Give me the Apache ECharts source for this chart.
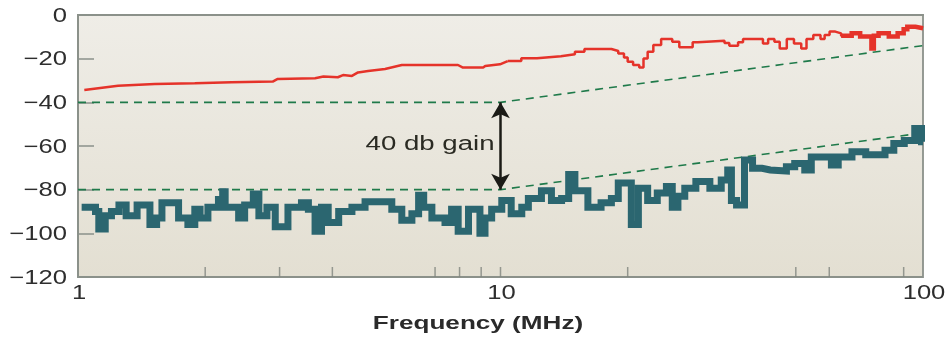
<!DOCTYPE html>
<html>
<head>
<meta charset="utf-8">
<script src="https://cdn.jsdelivr.net/npm/echarts@6/dist/echarts.min.js"></script>
<style>html,body{margin:0;padding:0;background:#fff}#c{width:947px;height:340px}</style>
</head>
<body>
<div id="c"></div>
<script>
// Frequency axis (MHz, log) and level axis (dB)
const xTickLabels = [1, 10, 100];
const xMinorTicks = [2, 3, 4, 7, 8, 9, 10, 20, 50, 60, 90];
const yTicks = [0, -20, -40, -60, -80, -100, -120];
const xAxisTitle = 'Frequency (MHz)';

// Red trace (upper) – smooth-ish low part and stepped high part: [MHz, dB]
const redLow = [[1.035,-34.4],[1.244,-32.4],[1.52,-31.6],[1.89,-31.3],[2.31,-30.8],[2.89,-30.5],[2.97,-29.3],[3.64,-29.0],[3.81,-28.2],[4.12,-28.5],[4.24,-27.5],[4.45,-27.9],[4.6,-26.3],[4.86,-25.7],[5.33,-24.7],[5.84,-22.9],[7.93,-22.9],[8.15,-24.1],[9.1,-24.1],[9.2,-23.4],[9.97,-22.6],[10.4,-21.1]];
const redHigh = [[10.4,-21.1],[11.2,-19.8],[12.2,-18.9],[13.9,-18.0],[15.0,-16.8],[15.8,-15.6],[18.3,-16.5],[19.0,-17.6],[19.6,-19.5],[20.0,-21.4],[20.6,-22.9],[21.3,-24.1],[21.8,-19.9],[22.3,-16.8],[23.0,-13.7],[24.0,-11.0],[25.5,-12.2],[26.5,-14.8],[28.5,-12.5],[29.3,-11.8],[33.9,-12.8],[34.8,-14.1],[36.5,-12.5],[37.5,-11.0],[41.8,-13.0],[43.0,-11.0],[44.5,-12.2],[45.8,-15.3],[47.6,-11.0],[49.5,-13.0],[51.5,-15.3],[53.0,-11.0],[55.0,-9.2],[57.2,-11.0],[58.5,-9.2],[60.1,-7.6],[62,-8.4],[64,-9.5],[67.8,-8.4],[71,-9.9],[75.5,-15.3],[76.5,-9.5],[78.5,-8.4],[83.0,-9.9],[87.1,-8.4],[90,-6.5],[91.8,-5.4],[96,-6.1],[100,-6.1]];
const redThickFrom = 64; // MHz, where the red trace becomes a wide band

// Teal trace (lower, noisy): [MHz, dB], stepped
const teal = [[1.02,-88],[1.10,-90],[1.12,-98],[1.16,-92],[1.20,-90],[1.25,-87],[1.30,-92],[1.38,-87],[1.48,-96],[1.535,-93],[1.58,-86],[1.73,-93],[1.82,-96],[1.89,-89],[1.945,-93],[2.03,-88],[2.15,-84.5],[2.2,-81],[2.23,-88],[2.4,-93],[2.48,-87],[2.6,-82],[2.68,-92],[2.8,-88],[2.93,-97],[3.14,-88],[3.38,-86],[3.51,-89],[3.64,-99],[3.77,-88],[3.91,-95],[4.14,-90],[4.45,-88],[4.78,-85.5],[5.53,-89],[5.84,-94],[6.17,-91],[6.4,-82.5],[6.58,-88],[6.88,-93],[7.39,-95],[7.66,-89],[7.94,-99],[8.4,-89],[8.94,-100],[9.19,-93],[9.53,-89],[10.07,-85],[10.6,-91],[11.23,-88],[11.64,-84],[12.5,-80.5],[13.2,-85],[13.95,-84],[14.5,-73],[15.0,-80.5],[16.1,-88],[17.3,-86],[18.3,-84],[19.0,-77],[20.4,-96],[21.2,-79.4],[22.3,-85],[23.5,-81.5],[24.7,-78.6],[25.5,-88],[26.3,-83],[27.3,-79.4],[29.0,-76.3],[31.3,-79.4],[33.3,-75.6],[34.5,-71],[35.2,-85],[36.2,-87],[37.8,-66.4],[39.5,-70.2],[41.6,-71],[43.5,-71.5],[47.5,-69.5],[49.7,-68],[52.5,-71],[54.4,-65],[60.7,-68.7],[63,-65],[67.9,-62.6],[73.2,-64],[81.3,-62],[85.3,-58.8],[90.3,-57.5],[95.6,-52],[99.2,-58],[100,-58]];

// Green dashed reference lines
const refUpper = [[1,-40],[10,-40],[100,-14]];
const refLower = [[1,-80],[10,-80],[100,-54]];

// Annotation
const gainFreq = 10, gainTop = -40, gainBottom = -80, gainText = '40 db gain';

const chart = echarts.init(document.getElementById('c'));
const axisGray = '#8b918a';
const FONT = '"Liberation Sans", Arial, sans-serif';
const option = {
  animation: false,
  grid: {
    left: 78, right: 24, top: 15, bottom: 63, show: true,
    borderColor: axisGray, borderWidth: 1.8,
    backgroundColor: {type:'linear', x:0, y:0, x2:0, y2:1, colorStops:[{offset:0,color:'#efede7'},{offset:1,color:'#e3dfd2'}]}
  },
  xAxis: {
    type: 'log', logBase: 10, min: 1, max: 100,
    axisLine: {lineStyle: {color: axisGray, width: 2}},
    axisTick: {show: false},
    splitLine: {show: false},
    axisLabel: {show: false}
  },
  yAxis: {
    type: 'value', min: -120, max: 0, interval: 20,
    axisLine: {show: true, lineStyle: {color: axisGray, width: 2}},
    axisTick: {show: true, inside: true, length: 16, lineStyle: {color: axisGray, width: 1.5}},
    splitLine: {show: false},
    axisLabel: {show: false}
  },
  series: [
    {type: 'scatter', data: xMinorTicks.map(f => [f, -120]), symbol: 'rect', symbolSize: [1.5, 10], symbolOffset: [0, -5],
      itemStyle: {color: '#7f857e'}, clip: false, silent: true, z: 1},
    {type: 'line', data: refUpper, symbol: 'none', lineStyle: {color: '#1f7a4a', width: 1.6, type: [8, 6]}, z: 2},
    {type: 'line', data: refLower, symbol: 'none', lineStyle: {color: '#1f7a4a', width: 1.6, type: [8, 6]}, z: 2},
    {type: 'line', data: teal, step: 'end', symbol: 'none', lineStyle: {color: '#2b6670', width: 7, join: 'miter'}, z: 3},
    {type: 'line', data: redLow, symbol: 'none', lineStyle: {color: '#e5332a', width: 2.5}, z: 4},
    {type: 'line', data: redHigh, step: 'end', symbol: 'none', lineStyle: {color: '#e5332a', width: 2.5}, z: 4},
    {type: 'line', data: redHigh.filter(p => p[0] >= redThickFrom), step: 'end', symbol: 'none',
      lineStyle: {color: '#e5332a', width: 4.5, join: 'miter'}, z: 4},
    {type: 'line', data: [], z: 5,
      markLine: {silent: true, symbol: ['arrow', 'arrow'], symbolSize: [14, 16],
        lineStyle: {color: '#1b1b16', width: 2.5, type: 'solid'}, label: {show: false},
        data: [[{coord: [gainFreq, gainTop]}, {coord: [gainFreq, gainBottom]}]]}}
  ]
};
chart.setOption(option);

// Text drawn at positions taken from the chart's own scales (stretched horizontally like the original)
const toPx = (x, y) => chart.convertToPixel({gridIndex: 0}, [x, y]);
const fmt = v => String(v).replace('-', '\u2212');
const texts = [];
yTicks.forEach(v => {
  const p = toPx(1, v);
  texts.push({type: 'text', x: p[0] - 11, y: p[1] + 1, scaleX: 1.28, silent: true,
    style: {text: fmt(v), align: 'right', verticalAlign: 'middle', font: '20px ' + FONT, fill: '#2e2e2e'}});
});
xTickLabels.forEach(f => {
  const p = toPx(f, -120);
  texts.push({type: 'text', x: p[0] + 1, y: p[1] + 16, scaleX: 1.28, silent: true,
    style: {text: String(f), align: 'center', verticalAlign: 'middle', font: '20px ' + FONT, fill: '#2e2e2e'}});
});
const mid = toPx(gainFreq, (gainTop + gainBottom) / 2 + 0.5);
texts.push({type: 'text', x: mid[0] - 6, y: mid[1], scaleX: 1.38, silent: true, z: 10,
  style: {text: gainText, align: 'right', verticalAlign: 'middle', font: '20px ' + FONT, fill: '#2a2a22'}});
texts.push({type: 'text', x: 478, y: 324, scaleX: 1.45, silent: true,
  style: {text: xAxisTitle, align: 'center', verticalAlign: 'middle', font: 'bold 18px ' + FONT, fill: '#2a2a2a'}});
chart.setOption({graphic: texts});
</script>
</body>
</html>
